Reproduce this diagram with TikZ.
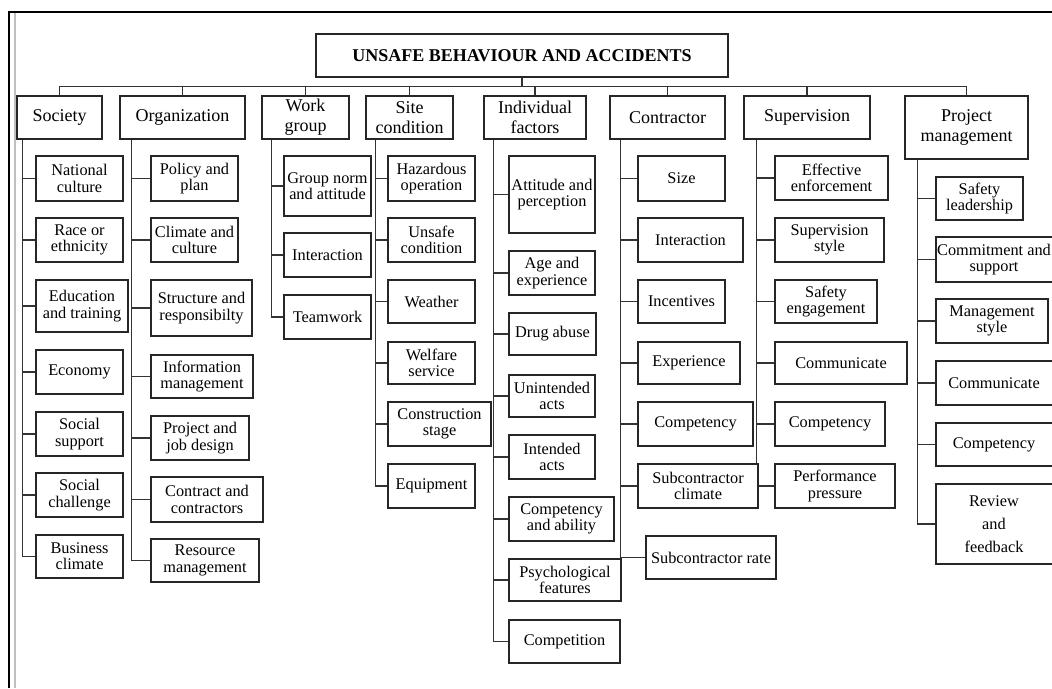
\documentclass[tikz,border=0pt]{standalone}
\usepackage{fontspec}
\setmainfont{Liberation Serif}
\pgfdeclarelayer{bg}
\pgfsetlayers{bg,main}
\tikzset{
  cbox/.style={draw=black!85, line width=1.1pt, fill=white, inner sep=0pt, align=center, font=\fontsize{16.3}{16.3}\selectfont},
  tbox/.style={cbox, font=\fontsize{18}{20}\selectfont},
  titlebox/.style={cbox, font=\fontsize{18}{20}\selectfont\bfseries},
  link/.style={draw=black!80, line width=1.1pt},
  frame/.style={draw=black, line width=2pt},
}
\newcommand\mkbox[7]{%
  \pgfmathsetmacro\BXw{#5-#3}\pgfmathsetmacro\BXh{#6-#4}%
  \pgfmathsetmacro\BXx{(#3+#5)/2}\pgfmathsetmacro\BXy{(#4+#6)/2}%
  \node[#1, minimum width=\BXw pt, minimum height=\BXh pt] (#2) at (\BXx,\BXy) {#7};}
\begin{document}
\begin{tikzpicture}[x=1pt,y=-1pt]
\useasboundingbox (0,0) rectangle (1052,688);
% frame
\draw[frame] (9,688) -- (9,12) -- (1060,12);
\draw[draw=black!25, line width=1.6pt] (15,688) -- (15,13);
% title
\mkbox{titlebox}{title}{316}{34}{728}{77}{UNSAFE BEHAVIOUR AND ACCIDENTS}
% top level
\mkbox{tbox}{soc}{17}{96}{102}{139}{Society}
\mkbox{tbox}{org}{120}{96}{245}{139}{Organization}
\mkbox{tbox}{wg}{262}{96}{349}{139}{Work\\group}
\mkbox{tbox}{site}{366}{96}{453}{139}{Site\\condition}
\mkbox{tbox}{ind}{484}{96}{586}{139}{Individual\\factors}
\mkbox{tbox}{con}{610}{96}{725}{139}{Contractor}
\mkbox{tbox}{sup}{744}{96}{870}{139}{Supervision}
\mkbox{tbox}{pm}{905}{96}{1028}{159}{Project\\management}
% Society
\mkbox{cbox}{s1}{36}{156}{123}{201}{National\\culture}
\mkbox{cbox}{s2}{36}{218}{123}{262}{Race or\\ethnicity}
\mkbox{cbox}{s3}{36}{280}{128}{332}{Education\\and training}
\mkbox{cbox}{s4}{36}{350}{123}{394}{Economy}
\mkbox{cbox}{s5}{36}{412}{123}{456}{Social\\support}
\mkbox{cbox}{s6}{36}{473}{123}{517}{Social\\challenge}
\mkbox{cbox}{s7}{36}{535}{123}{578}{Business\\climate}
% Organization
\mkbox{cbox}{o1}{151}{156}{238}{201}{Policy and\\plan}
\mkbox{cbox}{o2}{151}{218}{238}{262}{Climate and\\culture}
\mkbox{cbox}{o3}{151}{280}{252}{336}{Structure and\\responsibilty}
\mkbox{cbox}{o4}{151}{355}{253}{398}{Information\\management}
\mkbox{cbox}{o5}{151}{416}{249}{460}{Project and\\job design}
\mkbox{cbox}{o6}{151}{477}{263}{522}{Contract and\\contractors}
\mkbox{cbox}{o7}{151}{539}{259}{582}{Resource\\management}
% Work group
\mkbox{cbox}{w1}{284}{156}{371}{216}{Group norm\\and attitude}
\mkbox{cbox}{w2}{284}{233}{371}{277}{Interaction}
\mkbox{cbox}{w3}{284}{295}{371}{339}{Teamwork}
% Site condition
\mkbox{cbox}{c1}{388}{156}{475}{201}{Hazardous\\operation}
\mkbox{cbox}{c2}{388}{218}{475}{262}{Unsafe\\condition}
\mkbox{cbox}{c3}{388}{280}{475}{323}{Weather}
\mkbox{cbox}{c4}{388}{342}{475}{384}{Welfare\\service}
\mkbox{cbox}{c5}{388}{402}{491}{446}{Construction\\stage}
\mkbox{cbox}{c6}{388}{464}{475}{508}{Equipment}
% Individual factors
\mkbox{cbox}{i1}{509}{156}{595}{233}{Attitude and\\perception}
\mkbox{cbox}{i2}{509}{251}{595}{295}{Age and\\experience}
\mkbox{cbox}{i3}{509}{313}{596}{355}{Drug abuse}
\mkbox{cbox}{i4}{509}{375}{595}{417}{Unintended\\acts}
\mkbox{cbox}{i5}{509}{435}{595}{479}{Intended\\acts}
\mkbox{cbox}{i6}{509}{497}{614}{541}{Competency\\and ability}
\mkbox{cbox}{i7}{509}{559}{621}{601}{Psychological\\features}
\mkbox{cbox}{i8}{509}{620}{620}{663}{Competition}
% Contractor
\mkbox{cbox}{k1}{638}{156}{725}{201}{Size}
\mkbox{cbox}{k2}{638}{218}{743}{262}{Interaction}
\mkbox{cbox}{k3}{638}{280}{725}{323}{Incentives}
\mkbox{cbox}{k4}{638}{342}{740}{384}{Experience}
\mkbox{cbox}{k5}{638}{402}{753}{446}{Competency}
\mkbox{cbox}{k6}{638}{464}{758}{508}{Subcontractor\\climate}
\mkbox{cbox}{k7}{646}{536}{776}{579}{Subcontractor rate}
% Supervision
\mkbox{cbox}{v1}{775}{156}{888}{200}{Effective\\enforcement}
\mkbox{cbox}{v2}{775}{218}{884}{262}{Supervision\\style}
\mkbox{cbox}{v3}{775}{280}{877}{323}{Safety\\engagement}
\mkbox{cbox}{v4}{775}{342}{907}{384}{Communicate}
\mkbox{cbox}{v5}{775}{402}{885}{446}{Competency}
\mkbox{cbox}{v6}{775}{464}{895}{508}{Performance\\pressure}
% Project management
\mkbox{cbox}{p1}{936}{177}{1023}{220}{Safety\\leadership}
\mkbox{cbox}{p2}{936}{237}{1064}{282}{\hspace*{-12pt}Commitment and\\\hspace*{-12pt}support}
\mkbox{cbox}{p3}{936}{299}{1048}{343}{Management\\style}
\mkbox{cbox}{p4}{936}{361}{1064}{405}{\hspace*{-12pt}Communicate}
\mkbox{cbox}{p5}{936}{423}{1064}{466}{\hspace*{-12pt}Competency}
\mkbox{cbox}{p6}{936}{484}{1064}{564}{\hspace*{-12pt}Review\\[6.5pt]\hspace*{-12pt}and\\[6.5pt]\hspace*{-12pt}feedback}
% connectors
\begin{pgfonlayer}{bg}
\coordinate (bus) at ([yshift=-9pt]title.south);
\draw[link] (title.south) -- (bus);
\foreach \t in {soc,org,wg,site,ind,con,sup,pm} \draw[link] (bus) -| (\t.north);
\coordinate (socS) at ([xshift=6pt]soc.south west);
\coordinate (orgS) at ([xshift=12pt]org.south west);
\coordinate (wgS) at ([xshift=10pt]wg.south west);
\coordinate (siteS) at ([xshift=10pt]site.south west);
\coordinate (indS) at ([xshift=10pt]ind.south west);
\coordinate (conS) at ([xshift=11pt]con.south west);
\coordinate (supS) at ([xshift=13pt]sup.south west);
\coordinate (pmS) at ([xshift=13pt]pm.south west);
\foreach \c in {s1,s2,s3,s4,s5,s6,s7} \draw[link] (socS) |- (\c.west);
\foreach \c in {o1,o2,o3,o4,o5,o6,o7} \draw[link] (orgS) |- (\c.west);
\foreach \c in {w1,w2,w3} \draw[link] (wgS) |- (\c.west);
\foreach \c in {c1,c2,c3,c4,c5,c6} \draw[link] (siteS) |- (\c.west);
\foreach \c in {i1,i2,i3,i4,i5,i6,i7,i8} \draw[link] (indS) |- (\c.west);
\foreach \c in {k1,k2,k3,k4,k5,k6,k7} \draw[link] (conS) |- (\c.west);
\foreach \c in {v1,v2,v3,v4,v5,v6} \draw[link] (supS) |- (\c.west);
\foreach \c in {p1,p2,p3,p4,p5,p6} \draw[link] (pmS) |- (\c.west);
\end{pgfonlayer}
\end{tikzpicture}
\end{document}
